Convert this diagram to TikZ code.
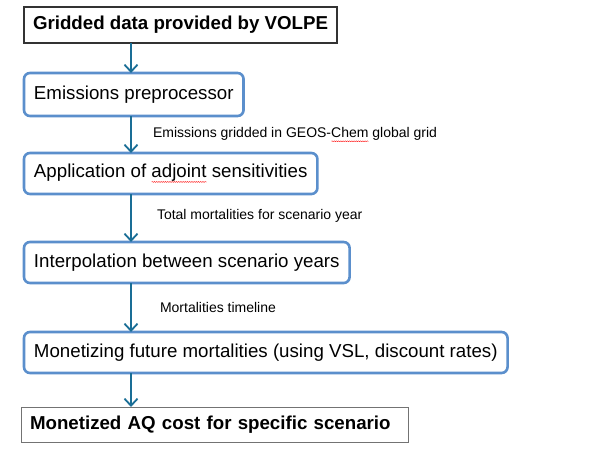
\documentclass[tikz,border=0pt]{standalone}
\usepackage{fontspec}
\setmainfont{Liberation Sans}
\usetikzlibrary{positioning,calc,arrows.meta,decorations.pathmorphing}
\definecolor{flowblue}{RGB}{26,110,150}
\definecolor{boxblue}{RGB}{91,143,204}
\newsavebox{\spellbox}
\newcommand{\spellmark}[1]{\sbox{\spellbox}{#1}\rlap{\tikz[baseline=0pt]\draw[red, sharp corners, line width=0.4pt, -, decorate, decoration={snake, amplitude=0.45pt, segment length=2.2pt}] (0pt,-4pt) -- (\wd\spellbox,-4pt);}\usebox{\spellbox}}

\begin{document}
\begin{tikzpicture}[
    node distance=30pt,
    outer sep=0pt,
    endbox/.style={draw=black!80, line width=1.2pt, rectangle, minimum height=36pt, inner xsep=9pt, font=\fontsize{18.7}{22}\selectfont\bfseries},
    stage/.style={draw=boxblue, line width=2.6pt, rounded corners=6pt, rectangle, minimum height=41pt, inner xsep=10pt, font=\fontsize{18.7}{22}\selectfont},
    flow/.style={draw=flowblue, line width=1.8pt, -{Straight Barb[length=7pt,width=13pt,line width=1.8pt]}},
    note/.style={inner sep=0pt, font=\fontsize{14}{16}\selectfont, anchor=west}
]
    \useasboundingbox (0,0) rectangle (600pt,-453pt);
    \coordinate (ax) at (131pt,0);
    % boxes
    \node [endbox, anchor=north west] (src) at (24pt,-7pt) {Gridded data provided by VOLPE};
    \node [stage, minimum height=43pt, below=30pt of src.south west, anchor=north west] (prep) {Emissions preprocessor};
    \node [stage, below=37pt of prep.south west, anchor=north west] (adj) {Application of \spellmark{adjoint} sensitivities};
    \node [stage, below=48pt of adj.south west, anchor=north west] (interp) {Interpolation between scenario years};
    \node [stage, below=49pt of interp.south west, anchor=north west] (money) {Monetizing future mortalities (using VSL, discount rates)};
    \node [endbox, draw=black!55, line width=1pt, minimum height=35pt, text width=369pt, align=left, below=34pt of money.south west, anchor=north west, xshift=-3pt] (cost) {Monetized AQ cost for specific scenario};
    % arrows
    \draw [flow] (src.south -| ax) -- (prep.north -| ax);
    \draw [flow] (prep.south -| ax) -- node [note, xshift=22pt] (n1) {Emissions gridded in GEOS-\spellmark{Chem} global grid} (adj.north -| ax);
    \draw [flow] (adj.south -| ax) -- node [note, xshift=26pt, yshift=2pt] (n2) {Total mortalities for scenario year} (interp.north -| ax);
    \draw [flow] (interp.south -| ax) -- node [note, xshift=29pt] (n3) {Mortalities timeline} (money.north -| ax);
    \draw [flow] (money.south -| ax) -- (cost.north -| ax);
\end{tikzpicture}
\end{document}
